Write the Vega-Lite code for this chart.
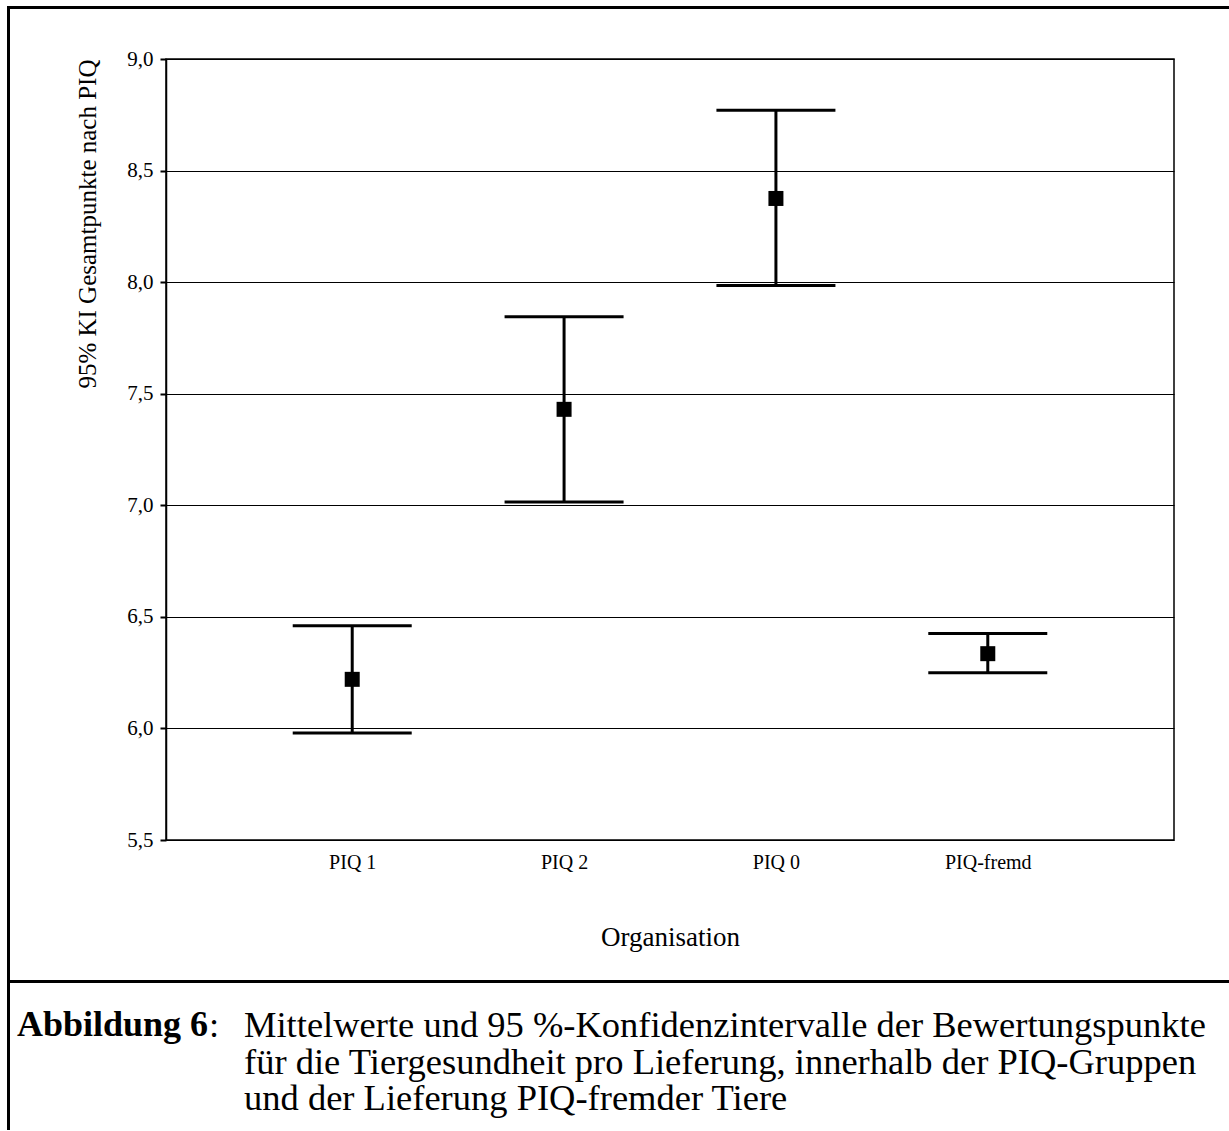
{
  "$schema": "https://vega.github.io/schema/vega-lite/v6.json",
  "padding": {"left": 7, "top": 6, "right": 0, "bottom": 0},
  "background": "white",
  "config": {
    "font": "Liberation Serif",
    "view": {"stroke": null},
    "axis": {"labelColor": "black", "titleColor": "black", "titleFontWeight": "normal"},
    "title": {"color": "black"}
  },
  "datasets": {
    "ci": [
      {"group": "PIQ 1", "lower": 5.98, "upper": 6.46, "mean": 6.22},
      {"group": "PIQ 2", "lower": 7.015, "upper": 7.845, "mean": 7.43},
      {"group": "PIQ 0", "lower": 7.985, "upper": 8.77, "mean": 8.375},
      {"group": "PIQ-fremd", "lower": 6.25, "upper": 6.425, "mean": 6.335}
    ]
  },
  "spacing": 0,
  "hconcat": [
    {
      "width": 1, "height": 1122,
      "view": {"stroke": "black", "strokeWidth": 2, "fill": "black"},
      "data": {"values": []},
      "mark": "point"
    },
    {
      "spacing": 38,
      "vconcat": [
        {
          "width": 1217, "height": 1,
          "view": {"stroke": "black", "strokeWidth": 2, "fill": "black"},
          "data": {"values": []},
          "mark": "point"
        },
        {
          "spacing": 29,
          "vconcat": [
            {
              "spacing": 62,
              "hconcat": [
                {
                  "width": 1, "height": 1,
                  "view": {"stroke": null, "fill": "white"},
                  "data": {"values": []},
                  "mark": "point"
                },
                {
                  "width": 1008, "height": 781,
                  "view": {"stroke": "black", "strokeWidth": 1.5},
                  "data": {"name": "ci"},
                  "encoding": {
                    "x": {
                      "field": "group", "type": "nominal", "sort": null,
                      "scale": {"type": "point", "padding": 0.879},
                      "axis": {
                        "title": "Organisation", "labelAngle": 0, "ticks": false, "domain": false,
                        "grid": false, "labelFontSize": 20, "labelPadding": 12,
                        "titleFontSize": 27, "titlePadding": 52
                      }
                    }
                  },
                  "layer": [
                    {
                      "mark": {"type": "rule", "strokeWidth": 3, "color": "black"},
                      "encoding": {
                        "y": {
                          "field": "lower", "type": "quantitative",
                          "title": "95% KI Gesamtpunkte nach PIQ",
                          "scale": {"domain": [5.5, 9.0], "nice": false, "zero": false},
                          "axis": {
                            "title": "95% KI Gesamtpunkte nach PIQ",
                            "values": [5.5, 6.0, 6.5, 7.0, 7.5, 8.0, 8.5, 9.0],
                            "labelExpr": "replace(format(datum.value, '.1f'), '.', ',')",
                            "grid": true, "gridColor": "black", "gridWidth": 1, "gridOpacity": 1,
                            "tickSize": 6, "tickWidth": 2, "tickColor": "black",
                            "domainColor": "black", "domainWidth": 1.5,
                            "labelFontSize": 21, "labelPadding": 7,
                            "titleFontSize": 25, "titleAnchor": "end", "titlePadding": 26
                          }
                        },
                        "y2": {"field": "upper"}
                      }
                    },
                    {
                      "mark": {"type": "tick", "orient": "horizontal", "size": 119, "thickness": 3, "color": "black", "opacity": 1},
                      "encoding": {"y": {"field": "upper", "type": "quantitative", "title": "95% KI Gesamtpunkte nach PIQ"}}
                    },
                    {
                      "mark": {"type": "tick", "orient": "horizontal", "size": 119, "thickness": 3, "color": "black", "opacity": 1},
                      "encoding": {"y": {"field": "lower", "type": "quantitative", "title": "95% KI Gesamtpunkte nach PIQ"}}
                    },
                    {
                      "mark": {"type": "square", "size": 225, "color": "black", "filled": true, "opacity": 1},
                      "encoding": {"y": {"field": "mean", "type": "quantitative", "title": "95% KI Gesamtpunkte nach PIQ"}}
                    }
                  ]
                }
              ]
            },
            {
              "spacing": 18,
              "vconcat": [
                {
                  "width": 1217, "height": 1,
                  "view": {"stroke": "black", "strokeWidth": 2, "fill": "black"},
                  "data": {"values": []},
                  "mark": "point"
                },
                {
                  "spacing": 5,
                  "hconcat": [
                    {
                      "width": 1, "height": 1,
                      "view": {"stroke": null, "fill": "white"},
                      "data": {"values": []},
                      "mark": "point"
                    },
                    {
                      "spacing": 24,
                      "hconcat": [
                        {
                          "spacing": 0,
                          "hconcat": [
                            {
                              "width": 1, "height": 1,
                              "view": {"stroke": null, "fill": "white"},
                              "data": {"values": []},
                              "mark": "point",
                              "title": {"text": "Abbildung 6", "orient": "bottom", "fontSize": 36, "fontWeight": "bold", "anchor": "start", "baseline": "top", "offset": 6, "limit": 1300}
                            },
                            {
                              "width": 1, "height": 1,
                              "view": {"stroke": null, "fill": "white"},
                              "data": {"values": []},
                              "mark": "point",
                              "title": {"text": ":", "orient": "bottom", "fontSize": 36.5, "fontWeight": "normal", "anchor": "start", "baseline": "top", "offset": 6, "limit": 1300}
                            }
                          ]
                        },
                        {
                          "width": 1, "height": 1,
                          "view": {"stroke": null, "fill": "white"},
                          "data": {"values": []},
                          "mark": "point",
                          "title": {
                            "text": [
                              "Mittelwerte und 95 %-Konfidenzintervalle der Bewertungspunkte",
                              "für die Tiergesundheit pro Lieferung, innerhalb der PIQ-Gruppen",
                              "und der Lieferung PIQ-fremder Tiere"
                            ],
                            "orient": "bottom",
                            "fontSize": 36.5, "fontWeight": "normal", "anchor": "start",
                            "baseline": "top", "lineHeight": 36.5, "offset": 6, "limit": 1300
                          }
                        }
                      ]
                    }
                  ]
                }
              ]
            }
          ]
        }
      ]
    }
  ]
}
